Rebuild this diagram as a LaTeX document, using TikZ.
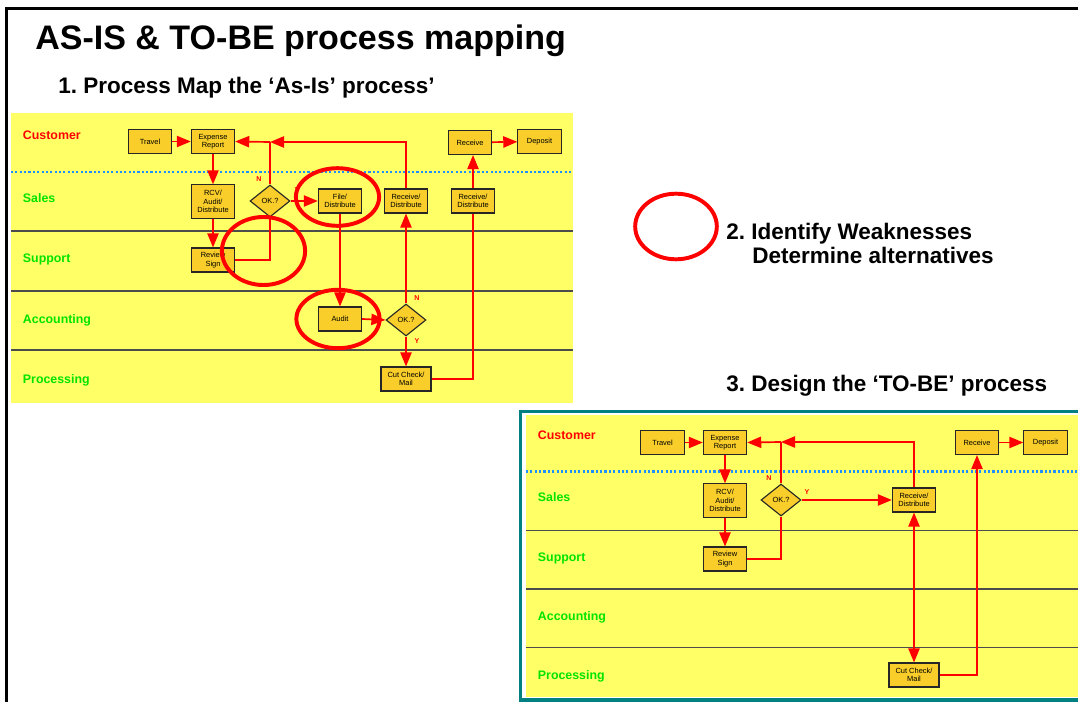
\documentclass[tikz,border=0pt]{standalone}
\usepackage{fontspec}
\setmainfont{Liberation Sans}
\frenchspacing
\usetikzlibrary{arrows.meta,shapes.geometric,shadows,positioning}
\definecolor{laneyellow}{RGB}{255,255,102}
\definecolor{boxgold}{RGB}{249,206,43}
\definecolor{lanegreen}{RGB}{0,228,0}
\definecolor{dotblue}{RGB}{30,144,255}
\definecolor{frameteal}{RGB}{0,128,128}
\tikzset{
    procbox/.style={
        draw=black!85, fill=boxgold, line width=0.8pt,
        minimum width=1.08cm, minimum height=0.6cm, inner sep=0pt,
        align=center, font=\fontsize{5.3}{6}\selectfont,
        drop shadow={shadow xshift=0.6pt, shadow yshift=-0.6pt, fill=black!50, opacity=0.6}
    },
    decision/.style={
        diamond, draw=black!85, fill=boxgold, line width=0.8pt,
        minimum width=1cm, minimum height=0.8cm, inner sep=0pt,
        font=\fontsize{5.3}{6}\selectfont
    },
    flow/.style={red, line width=1.2pt, -{Triangle[length=10pt,width=8pt]}},
    flowline/.style={red, line width=1.2pt},
    lanename/.style={
        anchor=west, text=lanegreen, text height=0.72em, text depth=0.2em,
        font=\fontsize{8.8}{10}\selectfont\bfseries
    },
    lanesep/.style={draw=black!70, line width=0.9pt},
    swimdots/.style={dotblue, line width=1.6pt, dash pattern=on 1.5pt off 1.6pt},
    yn/.style={text=red, font=\fontsize{5}{6}\selectfont\bfseries},
    weakring/.style={red, line width=2.8pt},
    heading/.style={
        anchor=west, text height=0.75em, text depth=0.25em, inner sep=0pt,
        font=\fontsize{16}{19}\selectfont\bfseries
    }
}

\begin{document}
\begin{tikzpicture}[x=0.025cm, y=-0.025cm]
    \useasboundingbox (0,0) rectangle (1078,702);
    \draw[line width=1.5pt] (6.5,702) -- (6.5,8.5) -- (1078,8.5);

    \node[anchor=west, inner sep=0pt, text height=0.75em, text depth=0.25em,
        font=\fontsize{24.2}{28}\selectfont\bfseries] (title) at (35,45.5) {AS-IS \& TO-BE process mapping};
    \node[heading] (stepOne) at (58,89.5) {1. Process Map the ‘As-Is’ process’};
    \node[heading] (stepTwo) at (726,236) {2. Identify Weaknesses};
    \node[heading] (stepTwoB) at (752,259.5) {Determine alternatives};
    \node[heading] (stepThree) at (726,388) {3. Design the ‘TO-BE’ process};

    % as-is map
    \fill[laneyellow] (11,113) rectangle (573,403);
    \draw[swimdots] (11,172) -- (573,172);
    \foreach \y in {231,291,350}
        \draw[lanesep] (11,\y) -- (573,\y);
    \node[lanename, text=red] (asCustomer) at (18,136) {Customer};
    \node[lanename] (asSales) at (18,199) {Sales};
    \node[lanename] (asSupport) at (18,259) {Support};
    \node[lanename] (asAccounting) at (18,320) {Accounting};
    \node[lanename] (asProcessing) at (18,380) {Processing};

    \node[procbox] (asTravel) at (150,141.5) {Travel};
    \node[procbox] (asExpense) at (213,141.5) {Expense\\Report};
    \node[procbox, minimum height=0.83cm] (asRcv) at (213,201.5) {RCV/\\Audit/\\Distribute};
    \node[decision] (asOk) at (270,201) {OK.?};
    \node[procbox] (asReview) at (213,260) {Review\\Sign};
    \node[procbox] (asFile) at (340,201) {File/\\Distribute};
    \node[procbox] (asRecvA) at (406,201) {Receive/\\Distribute};
    \node[procbox] (asRecvB) at (473,201) {Receive/\\Distribute};
    \node[procbox] (asReceive) at (470,142.5) {Receive};
    \node[procbox] (asDeposit) at (539.5,141.5) {Deposit};
    \node[procbox] (asAudit) at (340,319) {Audit};
    \node[decision] (asOkB) at (406,320) {OK.?};
    \node[procbox, minimum width=1.25cm] (asCut) at (406,379) {Cut Check/\\Mail};
    \coordinate (asJoin) at (270,142);

    \draw[flow] (asTravel) -- (asExpense);
    \draw[flow] (asExpense) -- (asRcv);
    \draw[flow] (asRcv) -- (asReview);
    \draw[flowline] (asReview.east) -| (asOk.south);
    \draw[flowline] (asOk.north) -- (asJoin);
    \draw[flow] (asRecvA.north) |- (asJoin);
    \draw[flow] (asJoin) -- (asExpense.east);
    \draw[flow] (asOk.east) -- (asFile.west);
    \draw[flow] (asFile.south) -- (asAudit.north);
    \draw[flow] (asAudit.east) -- (asOkB.west);
    \draw[flow] (asOkB.north) -- (asRecvA.south);
    \draw[flow] (asOkB.south) -- (asCut.north);
    \draw[flowline] (asCut.east) -| (asRecvB.south);
    \draw[flow] (asRecvB.north) -- (asRecvB.north |- asReceive.south);
    \draw[flow] (asReceive) -- (asDeposit);

    \node[yn] (asN) at (259,179) {N};
    \node[yn] (asY) at (297,190) {Y};
    \node[yn] (asNB) at (417,298) {N};
    \node[yn] (asYB) at (417,341) {Y};

    % weaknesses
    \draw[weakring] (337.5,197) ellipse [x radius=1.04cm, y radius=0.72cm];
    \draw[weakring] (263.5,251) ellipse [x radius=1.04cm, y radius=0.85cm];
    \draw[weakring] (338,319) ellipse [x radius=1.04cm, y radius=0.73cm];
    \draw[weakring] (676,226.5) ellipse [x radius=1.02cm, y radius=0.82cm];

    % to-be map
    \fill[laneyellow] (526,415) rectangle (1078,697);
    \draw[frameteal, line width=2.4pt] (1090,700) -- (520.5,700) -- (520.5,411.5) -- (1090,411.5);
    \draw[swimdots] (526,471.5) -- (1078,471.5);
    \foreach \y in {530.5,589,647.5}
        \draw[lanesep] (526,\y) -- (1078,\y);
    \node[lanename, text=red] (tbCustomer) at (533,436) {Customer};
    \node[lanename] (tbSales) at (533,498) {Sales};
    \node[lanename] (tbSupport) at (533,558) {Support};
    \node[lanename] (tbAccounting) at (533,617) {Accounting};
    \node[lanename] (tbProcessing) at (533,676) {Processing};

    \node[procbox] (tbTravel) at (662.5,442.5) {Travel};
    \node[procbox] (tbExpense) at (725,442.5) {Expense\\Report};
    \node[procbox, minimum height=0.83cm] (tbRcv) at (725,500.5) {RCV/\\Audit/\\Distribute};
    \node[decision] (tbOk) at (781,500) {OK.?};
    \node[procbox] (tbReview) at (725,559) {Review\\Sign};
    \node[procbox] (tbRecv) at (914,500) {Receive/\\Distribute};
    \node[procbox] (tbReceive) at (977,442.5) {Receive};
    \node[procbox] (tbDeposit) at (1045.5,442.5) {Deposit};
    \node[procbox, minimum width=1.25cm] (tbCut) at (914,675) {Cut Check/\\Mail};
    \coordinate (tbJoin) at (781,442);

    \draw[flow] (tbTravel) -- (tbExpense);
    \draw[flow] (tbExpense) -- (tbRcv);
    \draw[flow] (tbRcv) -- (tbReview);
    \draw[flowline] (tbReview.east) -| (tbOk.south);
    \draw[flowline] (tbOk.north) -- (tbJoin);
    \draw[flow] (tbRecv.north) |- (tbJoin);
    \draw[flow] (tbJoin) -- (tbExpense.east);
    \draw[flow] (tbOk.east) -- (tbRecv.west);
    \draw[flow, {Triangle[length=10pt,width=8pt]}-{Triangle[length=10pt,width=8pt]}] (tbRecv.south) -- (tbCut.north);
    \draw[flow] (tbCut.east) -| (tbReceive.south);
    \draw[flow] (tbReceive) -- (tbDeposit);

    \node[yn] (tbN) at (769,478) {N};
    \node[yn] (tbY) at (807,492) {Y};
\end{tikzpicture}
\end{document}
